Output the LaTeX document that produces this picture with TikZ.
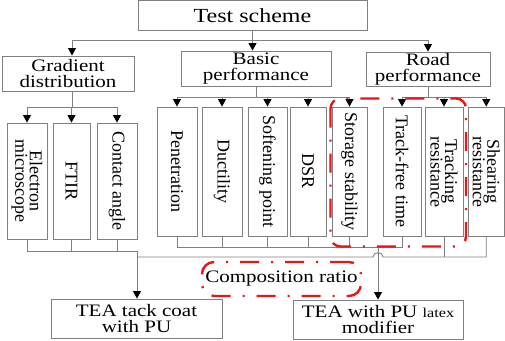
\documentclass[tikz,border=0pt]{standalone}
\usepackage{fontspec}
\setmainfont{Liberation Serif}
\newfontfamily\hfont[FakeStretch=1.2]{Liberation Serif}
\usetikzlibrary{arrows.meta}
\definecolor{boxgray}{RGB}{128,128,128}
\definecolor{grpred}{RGB}{236,20,20}
\setlength{\lineskiplimit}{-100pt}
\begin{document}
\begin{tikzpicture}[x=1pt,y=-1pt,
  box/.style={draw=boxgray,line width=0.9pt,inner sep=0pt,align=center,text=black},
  hbox/.style={box,font=\hfont\fontsize{17.5}{16}\selectfont},
  vbox/.style={box,rotate=-90,font=\fontsize{18}{14.5}\selectfont},
  ln/.style={draw=boxgray,line width=0.9pt},
  arr/.style={ln,-{Triangle[length=7.5pt,width=8pt,color=black]}},
  grp/.style={draw=grpred,line width=2.4pt,dash pattern=on 19pt off 12pt on 2pt off 12pt}]
\fill[white] (0,0) rectangle (505,340);
\useasboundingbox (0,0) rectangle (505,340);

% top level
\node[hbox,minimum width=229pt,minimum height=29.5pt,font=\hfont\fontsize{20}{20}\selectfont] (ts) at (252.5,15.25) {Test scheme};
\node[hbox,minimum width=132pt,minimum height=35pt] (gd) at (68,73.5) {Gradient\\distribution};
\node[hbox,minimum width=150pt,minimum height=35pt] (bp) at (256,68.5) {Basic\\performance};
\node[hbox,minimum width=124pt,minimum height=34pt] (rp) at (428,69) {Road\\performance};

% test boxes (rotated)
\node[vbox,minimum width=116pt,minimum height=40pt] (em) at (27,181) {Electron\\microscope};
\node[vbox,minimum width=116pt,minimum height=37pt] (ftir) at (71.5,181) {FTIR};
\node[vbox,minimum width=116pt,minimum height=40pt] (ca) at (117,181) {Contact angle};
\node[vbox,minimum width=129pt,minimum height=40pt] (pen) at (177,171.5) {Penetration};
\node[vbox,minimum width=129pt,minimum height=40pt] (duc) at (222,171.5) {Ductility};
\node[vbox,minimum width=129pt,minimum height=39pt] (soft) at (267.5,171.5) {Softening point};
\node[vbox,minimum width=129pt,minimum height=36pt] (dsr) at (308,171.5) {DSR};
\node[vbox,minimum width=129pt,minimum height=35pt] (sto) at (349.5,171.5) {Storage stability};
\node[vbox,minimum width=129pt,minimum height=38pt] (tft) at (402,171.5) {Track-free time};
\node[vbox,minimum width=129pt,minimum height=38pt] (trk) at (444,171.5) {Tracking\\resistance};
\node[vbox,minimum width=129pt,minimum height=36.5pt] (shr) at (486.25,171.5) {Shearing\\resistance};

% bottom boxes
\node[hbox,minimum width=171pt,minimum height=39pt] (tea1) at (136.5,318.5) {TEA tack coat\\with PU};
\node[hbox,minimum width=170pt,minimum height=39pt] (tea2) at (378,319.5) {TEA with PU {\fontsize{13.5}{16}\selectfont latex}\\modifier};

% top connectors
\coordinate (t0) at (252.5,40);
\draw[ln] (ts.south) -- (t0);
\draw[arr] (t0) -| ([xshift=4pt]gd.north);
\draw[arr] (t0) -- (t0 |- bp.north);
\draw[arr] (t0) -| (rp.north);

% gradient children
\coordinate (g0) at (72,107);
\draw[ln] ([xshift=4pt]gd.south) -- (g0);
\draw[ln] (em.west |- g0) -- (ca.west |- g0);
\foreach \n in {em,ftir,ca} \draw[arr] (\n.west |- g0) -- (\n.west);

% basic children
\coordinate (b0) at (256,97);
\draw[ln] (bp.south) -- (b0);
\draw[ln] (pen.west |- b0) -- (sto.west |- b0);
\foreach \n in {pen,duc,soft,dsr,sto} \draw[arr] (\n.west |- b0) -- (\n.west);

% road children
\coordinate (r0) at (428,97);
\draw[ln] (rp.south) -- (r0);
\draw[ln] (tft.west |- r0) -- (shr.west |- r0);
\foreach \n in {tft,trk,shr} \draw[arr] (\n.west |- r0) -- (\n.west);

% gradient outputs -> TEA tack coat
\coordinate (gb) at (137,251);
\draw[ln] (em.east) -- (em.east |- gb) -- (gb);
\draw[ln] (ftir.east) -- (ftir.east |- gb);
\draw[ln] (ca.east) -- (ca.east |- gb);
\draw[arr] (gb) -- (gb |- tea1.north);

% basic + track-free outputs -> TEA with PU latex modifier
\coordinate (bb) at (378,247.5);
\draw[ln] (pen.east |- bb) -- (tft.east |- bb);
\foreach \n in {pen,duc,soft,dsr,sto,tft} \draw[ln] (\n.east) -- (\n.east |- bb);
\draw[arr] (bb) -- (tea2.north);

% tracking/shearing outputs -> left line, hopping over
\coordinate (hy) at (0,257);
\coordinate (hl) at (373,257);
\coordinate (hr) at (383,257);
\draw[ln] (gb |- hy) -- (hl) .. controls (373,251.3) and (383,251.3) .. (hr) -- (shr.east |- hy) -- (shr.east);
\draw[ln] (trk.east) -- (trk.east |- hy);

% red groups
\draw[grp,rounded corners=10pt] (330.5,98.5) rectangle (466,246.5);
\node[hbox,grp,rounded corners=12pt,minimum width=159pt,minimum height=34pt] (comp) at (281.5,279) {Composition ratio};
\end{tikzpicture}
\end{document}
